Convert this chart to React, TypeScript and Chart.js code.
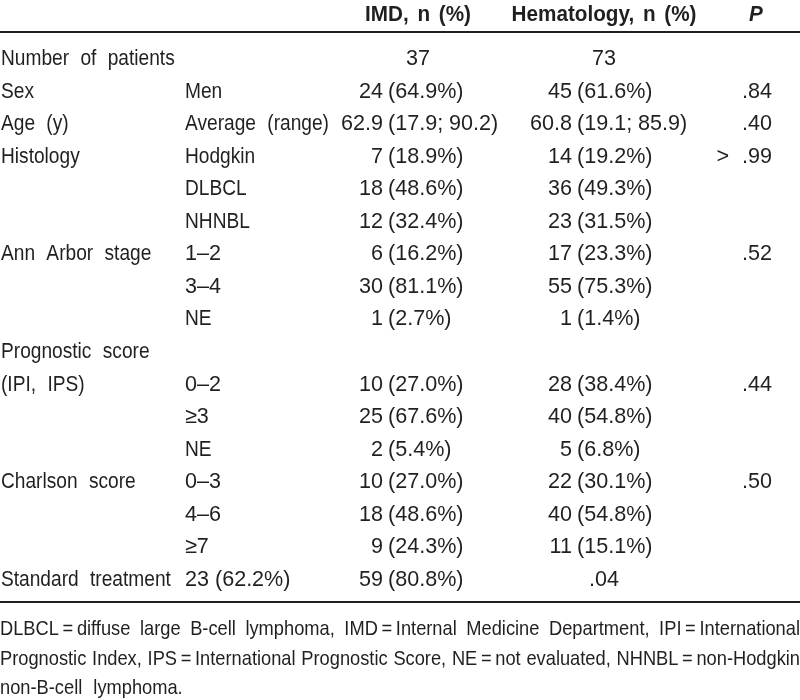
import React, { useEffect, useRef } from "react";
import { Chart, registerables } from "chart.js";

Chart.register(...registerables);

// ---- Data ----
const headerLabels = ["IMD, n (%)", "Hematology, n (%)", "P"];
const rowLabels = [
  "Number of patients", "Sex", "Age (y)", "Histology", "", "", "Ann Arbor stage", "", "",
  "Prognostic score", "(IPI, IPS)", "", "", "Charlson score", "", "", "Standard treatment",
];
const subLabels = [
  "", "Men", "Average (range)", "Hodgkin", "DLBCL", "NHNBL", "1–2", "3–4", "NE",
  "", "0–2", "≥3", "NE", "0–3", "4–6", "≥7", "23 (62.2%)",
];
const imdValues = [
  "37", "24 (64.9%)", "62.9 (17.9; 90.2)", "7 (18.9%)", "18 (48.6%)", "12 (32.4%)", "6 (16.2%)",
  "30 (81.1%)", "1 (2.7%)", "", "10 (27.0%)", "25 (67.6%)", "2 (5.4%)", "10 (27.0%)",
  "18 (48.6%)", "9 (24.3%)", "59 (80.8%)",
];
const hemValues = [
  "73", "45 (61.6%)", "60.8 (19.1; 85.9)", "14 (19.2%)", "36 (49.3%)", "23 (31.5%)", "17 (23.3%)",
  "55 (75.3%)", "1 (1.4%)", "", "28 (38.4%)", "40 (54.8%)", "5 (6.8%)", "22 (30.1%)",
  "40 (54.8%)", "11 (15.1%)", ".04",
];
const pValues = ["", ".84", ".40", "> .99", "", "", ".52", "", "", "", ".44", "", "", ".50", "", "", ""];
const footnoteLines = [
  "DLBCL\u2009=\u2009diffuse large B-cell lymphoma, IMD\u2009=\u2009Internal Medicine Department, IPI\u2009=\u2009International",
  "Prognostic Index, IPS\u2009=\u2009International Prognostic Score, NE\u2009=\u2009not evaluated, NHNBL\u2009=\u2009non-Hodgkin",
  "non-B-cell lymphoma.",
];

// ---- Layout (scale units equal canvas pixels) ----
const W = 800;
const H = 700;
const FONT_FAMILY = "'Liberation Sans', Arial, sans-serif";
const BODY_SIZE = 22;
const NOTE_SIZE = 21;
const TEXT_COLOR = "#231f20";
const LABEL_SX = 0.87;
const LABEL_EXTRA = 6;
const NUM_SX = 0.98;
const HEAD_SX = 0.94;
const HEAD_EXTRA = 3;

const layout = {
  headerBaseline: 21,
  headerRule: 32,
  firstRowBaseline: 65,
  rowStep: 32.56,
  bottomRule: 602,
  noteBaseline: 635,
  noteStep: 29.5,
  colLabel: 1,
  colSub: 185,
  imdParen: 388,
  imdCenter: 418,
  hemParen: 577,
  hemCenter: 604,
  pRight: 772,
  pCenter: 756,
};

function runWidth(ctx: any, text: string, sx: number, extra: number) {
  const words = text.split(" ");
  const sp = ctx.measureText(" ").width * sx + extra;
  let w = 0;
  words.forEach((wd, i) => {
    w += ctx.measureText(wd).width * sx;
    if (i < words.length - 1) w += sp;
  });
  return w;
}

function drawRun(ctx: any, text: string, x: number, y: number, align: string, sx: number, extra: number) {
  const total = runWidth(ctx, text, sx, extra);
  let cx = align === "left" ? x : align === "right" ? x - total : x - total / 2;
  const sp = ctx.measureText(" ").width * sx + extra;
  ctx.textAlign = "left";
  text.split(" ").forEach((wd) => {
    ctx.save();
    ctx.translate(cx, y);
    ctx.scale(sx, 1);
    ctx.fillText(wd, 0, 0);
    ctx.restore();
    cx += ctx.measureText(wd).width * sx + sp;
  });
}

const isNumeric = (t: string) => /^[0-9.≥>]/.test(t);

const tablePlugin = {
  id: "tablePlugin",
  afterDraw(chart: any) {
    const { ctx } = chart;
    const xs = chart.scales.x;
    const ys = chart.scales.y;
    const px = (v: number) => xs.getPixelForValue(v);
    const py = (v: number) => ys.getPixelForValue(v);
    ctx.save();
    ctx.fillStyle = TEXT_COLOR;
    ctx.strokeStyle = TEXT_COLOR;
    ctx.textBaseline = "alphabetic";

    // Header
    ctx.font = `bold ${BODY_SIZE}px ${FONT_FAMILY}`;
    drawRun(ctx, headerLabels[0], px(layout.imdCenter), py(layout.headerBaseline), "center", HEAD_SX, HEAD_EXTRA);
    drawRun(ctx, headerLabels[1], px(layout.hemCenter), py(layout.headerBaseline), "center", HEAD_SX, HEAD_EXTRA);
    ctx.font = `italic bold ${BODY_SIZE}px ${FONT_FAMILY}`;
    drawRun(ctx, headerLabels[2], px(layout.pCenter), py(layout.headerBaseline), "center", HEAD_SX, 0);

    // Rules
    ctx.lineWidth = 2;
    [layout.headerRule, layout.bottomRule].forEach((r) => {
      ctx.beginPath();
      ctx.moveTo(px(0), py(r));
      ctx.lineTo(px(W), py(r));
      ctx.stroke();
    });

    // Body
    ctx.font = `${BODY_SIZE}px ${FONT_FAMILY}`;
    const drawText = (txt: string, x: number, y: number, align: string) => {
      if (!txt) return;
      if (isNumeric(txt)) drawRun(ctx, txt, x, y, align, NUM_SX, 0);
      else drawRun(ctx, txt, x, y, align, LABEL_SX, LABEL_EXTRA);
    };
    const drawValue = (txt: string, parenX: number, centerX: number, yy: number) => {
      if (!txt) return;
      const i = txt.indexOf(" (");
      if (i >= 0) {
        drawRun(ctx, txt.slice(0, i), px(parenX - 5), yy, "right", NUM_SX, 0);
        drawRun(ctx, txt.slice(i + 1), px(parenX), yy, "left", NUM_SX, 0);
      } else {
        drawRun(ctx, txt, px(centerX), yy, "center", NUM_SX, 0);
      }
    };
    rowLabels.forEach((lab, r) => {
      const yy = py(layout.firstRowBaseline + r * layout.rowStep);
      drawText(lab, px(layout.colLabel), yy, "left");
      drawText(subLabels[r], px(layout.colSub), yy, "left");
      drawValue(imdValues[r], layout.imdParen, layout.imdCenter, yy);
      drawValue(hemValues[r], layout.hemParen, layout.hemCenter, yy);
      const pv = pValues[r];
      if (pv) {
        if (pv.startsWith("> ")) {
          const rest = pv.slice(2);
          drawRun(ctx, rest, px(layout.pRight), yy, "right", NUM_SX, 0);
          const w = runWidth(ctx, rest, NUM_SX, 0);
          drawRun(ctx, ">", px(layout.pRight) - w - 13, yy, "right", NUM_SX, 0);
        } else {
          drawRun(ctx, pv, px(layout.pRight), yy, "right", NUM_SX, 0);
        }
      }
    });

    // Footnote (justified except last line)
    ctx.font = `${NOTE_SIZE}px ${FONT_FAMILY}`;
    const left = px(0);
    const right = px(W);
    footnoteLines.forEach((line, li) => {
      const yy = py(layout.noteBaseline + li * layout.noteStep);
      const words = line.split(" ");
      if (li === footnoteLines.length - 1 || words.length < 2) {
        drawRun(ctx, line, left, yy, "left", LABEL_SX, LABEL_EXTRA);
        return;
      }
      const widths = words.map((w) => ctx.measureText(w).width * LABEL_SX);
      const total = widths.reduce((a, b) => a + b, 0);
      const gap = (right - left - total) / (words.length - 1);
      let cx = left;
      words.forEach((w, wi) => {
        ctx.save();
        ctx.translate(cx, yy);
        ctx.scale(LABEL_SX, 1);
        ctx.textAlign = "left";
        ctx.fillText(w, 0, 0);
        ctx.restore();
        cx += widths[wi] + gap;
      });
    });
    ctx.restore();
  },
};

export default function App() {
  const ref = useRef<HTMLCanvasElement | null>(null);
  useEffect(() => {
    document.body.style.margin = "0";
    const canvas = ref.current;
    if (!canvas) return;
    const chart = new Chart(canvas, {
      type: "scatter",
      data: { datasets: [{ data: [], pointRadius: 0 }] },
      options: {
        animation: false,
        responsive: false,
        devicePixelRatio: 1,
        layout: { padding: 0 },
        plugins: { legend: { display: false }, tooltip: { enabled: false } },
        scales: {
          x: { type: "linear", min: 0, max: W, display: false },
          y: { type: "linear", min: 0, max: H, reverse: true, display: false },
        },
      },
      plugins: [tablePlugin],
    });
    return () => chart.destroy();
  }, []);
  return (
    <div style={{ width: W, height: H, background: "#fff" }}>
      <canvas ref={ref} width={W} height={H} style={{ display: "block" }} />
    </div>
  );
}
